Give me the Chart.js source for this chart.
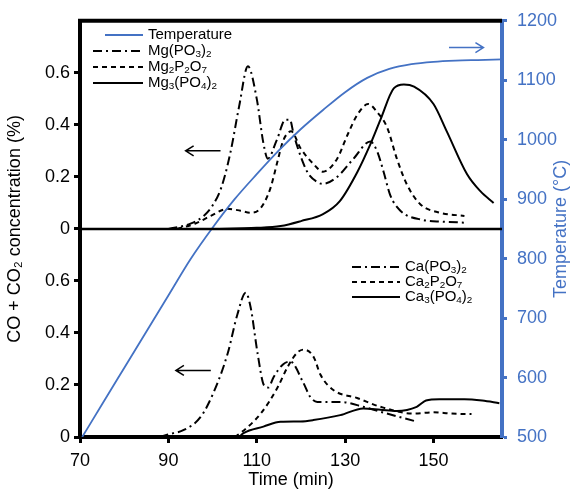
<!DOCTYPE html>
<html>
<head>
<meta charset="utf-8">
<script src="https://cdn.jsdelivr.net/npm/chart.js@4.4.0/dist/chart.umd.min.js"></script>
<style>
  body { margin: 0; background: #fff; }
  #wrap { width: 572px; height: 495px; }
</style>
</head>
<body>
<div id="wrap"><canvas id="chart"></canvas></div>
<script>
// axis ticks
const timeTicks = [70, 90, 110, 130, 150];

// furnace temperature (right axis, °C)
const tempTime  = [70.5, 75, 80, 85, 90, 95, 100, 105, 110, 115, 120, 125, 130, 135, 140, 145, 150, 155, 160, 165.5];
const tempValue = [500, 555, 616, 677, 738, 799, 852, 900, 942, 982, 1018, 1050, 1080, 1104, 1119, 1127, 1131, 1133, 1134, 1135];

// top panel: magnesium phosphates, CO + CO2 (%)
const mgPO3Time  = [90, 95, 98, 100, 102, 104, 106, 108, 110, 111.5, 112.5, 114.5, 116.5, 117.5, 118.4, 121.4, 123.7, 125, 128.2, 131.9, 135.7, 137.2, 138.7, 140.2, 142.5, 147.7, 152, 157];
const mgPO3Value = [0, 0.02, 0.05, 0.09, 0.16, 0.29, 0.47, 0.625, 0.5, 0.33, 0.27, 0.34, 0.42, 0.42, 0.36, 0.22, 0.18, 0.173, 0.2, 0.27, 0.336, 0.3, 0.22, 0.13, 0.07, 0.034, 0.028, 0.024];

const mgP2O7Time  = [92, 96, 99.6, 103.4, 106.3, 108.6, 110.9, 113.1, 114.7, 116, 117.8, 119.9, 122.8, 125, 128.2, 130.5, 132.8, 135.2, 137.2, 139.5, 141.7, 144, 147, 151.5, 157];
const mgP2O7Value = [0, 0.02, 0.05, 0.077, 0.07, 0.062, 0.08, 0.157, 0.26, 0.34, 0.375, 0.31, 0.25, 0.22, 0.27, 0.36, 0.44, 0.48, 0.45, 0.39, 0.27, 0.17, 0.095, 0.062, 0.05];

const mgPO4Time  = [100, 110, 115.4, 120, 125, 128.8, 132.8, 135.7, 138, 141, 143.3, 145.6, 150, 153, 157.6, 160.6, 163.6];
const mgPO4Value = [0, 0.004, 0.011, 0.03, 0.057, 0.107, 0.22, 0.325, 0.42, 0.54, 0.555, 0.547, 0.48, 0.375, 0.21, 0.145, 0.1];

// bottom panel: calcium phosphates, CO + CO2 (%)
const caPO3Time  = [88, 89.9, 93.5, 97.3, 100.2, 103.4, 105.6, 107.5, 108.6, 110.2, 111.6, 112.6, 113.8, 116, 117.6, 120.5, 122.1, 123.7, 128.9, 134.1, 138, 146.2];
const caPO3Value = [0, 0.01, 0.027, 0.077, 0.17, 0.32, 0.47, 0.555, 0.5, 0.32, 0.2, 0.19, 0.23, 0.28, 0.29, 0.21, 0.154, 0.135, 0.135, 0.116, 0.097, 0.059];

const caP2O7Time  = [105, 106.3, 110.9, 114.7, 117, 119.2, 120.6, 122.9, 124.4, 127.4, 132.7, 138, 145.5, 150, 154, 158.6];
const caP2O7Value = [0, 0.015, 0.09, 0.19, 0.27, 0.325, 0.336, 0.307, 0.24, 0.18, 0.15, 0.116, 0.09, 0.095, 0.09, 0.088];

const caPO4Time  = [106, 107, 111.5, 115.4, 119.9, 122.8, 128.9, 134.1, 138, 141.7, 146.2, 148.3, 151.3, 157, 161, 164.9];
const caPO4Value = [0, 0.015, 0.04, 0.059, 0.06, 0.065, 0.084, 0.11, 0.105, 0.1, 0.116, 0.14, 0.145, 0.145, 0.14, 0.13];

// the top panel sits this far above the bottom one on the shared left axis
const PANEL_SHIFT = 0.8;
const BLUE = "#4472C4";
const FONT = "'Liberation Sans', Arial, sans-serif";

const pts = (xs, ys, shift = 0) => xs.map((x, i) => ({x: x, y: ys[i] + shift}));

const DASHDOT = [9, 4, 2, 4];
const DASHED = [5, 4];

const datasets = [
    {label: "Temperature", data: pts(tempTime, tempValue), yAxisID: "y2", borderColor: BLUE, borderWidth: 1.8, borderDash: []},
    {label: "Mg(PO{3}){2}", data: pts(mgPO3Time, mgPO3Value, PANEL_SHIFT), borderDash: DASHDOT},
    {label: "Mg{2}P{2}O{7}", data: pts(mgP2O7Time, mgP2O7Value, PANEL_SHIFT), borderDash: DASHED},
    {label: "Mg{3}(PO{4}){2}", data: pts(mgPO4Time, mgPO4Value, PANEL_SHIFT), borderDash: []},
    {label: "Ca(PO{3}){2}", data: pts(caPO3Time, caPO3Value), borderDash: DASHDOT},
    {label: "Ca{2}P{2}O{7}", data: pts(caP2O7Time, caP2O7Value), borderDash: DASHED},
    {label: "Ca{3}(PO{4}){2}", data: pts(caPO4Time, caPO4Value), borderDash: []}
].map(d => Object.assign({
    yAxisID: "y", borderColor: "#000", borderWidth: 2, pointRadius: 0,
    tension: 0.4, cubicInterpolationMode: "monotone", fill: false
}, d));

// text with {n} turned into subscripts
function richText(ctx, str, x, y, size) {
    const parts = str.split(/(\{\d+\})/);
    parts.forEach(p => {
        if (!p) return;
        const sub = p[0] === "{";
        const t = sub ? p.slice(1, -1) : p;
        ctx.font = (sub ? size * 0.66 : size) + "px " + FONT;
        ctx.fillText(t, x, sub ? y + size * 0.25 : y);
        x += ctx.measureText(t).width;
    });
}

function arrow(ctx, x1, x2, y, color) {
    // tip at x2
    const d = x2 > x1 ? -1 : 1;
    ctx.strokeStyle = color;
    ctx.lineWidth = 1.5;
    ctx.setLineDash([]);
    ctx.beginPath();
    ctx.moveTo(x1, y); ctx.lineTo(x2, y);
    ctx.moveTo(x2 + d * 8, y - 5); ctx.lineTo(x2, y); ctx.lineTo(x2 + d * 8, y + 5);
    ctx.stroke();
}

const decor = {
    id: "decor",
    afterDatasetsDraw(chart) {
        const {ctx, chartArea: a, scales} = chart;
        const x = scales.x, y = scales.y;
        ctx.save();
        // frame top and panel divider
        ctx.strokeStyle = "#000";
        ctx.lineWidth = 4;
        ctx.beginPath(); ctx.moveTo(a.left - 2, a.top); ctx.lineTo(a.right, a.top); ctx.stroke();
        const yd = y.getPixelForValue(PANEL_SHIFT);
        ctx.lineWidth = 2.5;
        ctx.beginPath(); ctx.moveTo(a.left, yd); ctx.lineTo(a.right, yd); ctx.stroke();

        // arrows pointing to their axes
        arrow(ctx, x.getPixelForValue(101.8), x.getPixelForValue(93.9), y.getPixelForValue(1.1), "#000");
        arrow(ctx, x.getPixelForValue(99.6), x.getPixelForValue(91.7), y.getPixelForValue(0.256), "#000");
        arrow(ctx, x.getPixelForValue(153.5), x.getPixelForValue(161.3), y.getPixelForValue(1.497), BLUE);

        // right axis title, reading upwards
        ctx.save();
        ctx.translate(561, (a.top + a.bottom) / 2);
        ctx.rotate(-Math.PI / 2);
        ctx.textAlign = "center";
        ctx.textBaseline = "middle";
        ctx.fillStyle = BLUE;
        ctx.font = "18px " + FONT;
        ctx.fillText("Temperature (°C)", 0, 0);
        ctx.restore();

        // legends
        ctx.textBaseline = "middle";
        ctx.fillStyle = "#000";
        const ds = chart.data.datasets;
        const entry = (d, x0, x1, yy) => {
            ctx.strokeStyle = d.borderColor;
            ctx.lineWidth = d.borderWidth;
            ctx.setLineDash(d.borderDash);
            ctx.beginPath(); ctx.moveTo(x0, yy); ctx.lineTo(x1, yy); ctx.stroke();
            ctx.setLineDash([]);
            richText(ctx, d.label, x1 + 5, yy, 15);
        };
        entry(ds[0], 105, 143, 35);
        entry(ds[1], 93, 143, 51);
        entry(ds[2], 93, 143, 67);
        entry(ds[3], 93, 143, 83);
        entry(ds[4], 352, 400, 267);
        entry(ds[5], 352, 400, 282);
        entry(ds[6], 352, 400, 297);
        ctx.restore();
    }
};

new Chart(document.getElementById("chart"), {
    type: "line",
    data: {datasets: datasets},
    plugins: [decor],
    options: {
        responsive: true,
        maintainAspectRatio: false,
        animation: false,
        layout: {padding: {top: 18, left: 0, right: 0, bottom: 0}},
        plugins: {legend: {display: false}, tooltip: {enabled: false}},
        scales: {
            x: {
                type: "linear", min: 70, max: 165.5,
                afterFit: s => { s.height = 58; },
                afterBuildTicks: s => { s.ticks = timeTicks.map(v => ({value: v})); },
                border: {color: "#000", width: 4},
                grid: {drawOnChartArea: false, tickLength: 6, tickWidth: 3, tickColor: "#000"},
                ticks: {color: "#000", font: {family: FONT, size: 18}, padding: 7, callback: v => String(v)},
                title: {display: true, text: "Time (min)", color: "#000", font: {family: FONT, size: 18}, padding: {top: 4}}
            },
            y: {
                type: "linear", position: "left", min: 0, max: 1.6,
                afterFit: s => { s.width = 80; },
                afterBuildTicks: s => { s.ticks = s.ticks.filter(t => t.value < 1.59); },
                border: {color: "#000", width: 4},
                grid: {drawOnChartArea: false, tickLength: 6, tickWidth: 3, tickColor: "#000"},
                ticks: {
                    stepSize: 0.2, color: "#000", font: {family: FONT, size: 18}, padding: 4,
                    callback: v => {
                        const r = Math.round((v >= PANEL_SHIFT - 1e-6 ? v - PANEL_SHIFT : v) * 10) / 10;
                        return r === 0 ? "0" : r.toFixed(1);
                    }
                },
                title: {display: true, text: "CO + CO₂ concentration (%)", color: "#000", font: {family: FONT, size: 18}, padding: {bottom: 4}}
            },
            y2: {
                type: "linear", position: "right", min: 500, max: 1200,
                afterFit: s => { s.width = 70; },
                border: {color: BLUE, width: 4},
                grid: {drawOnChartArea: false, tickLength: 5, tickWidth: 3, tickColor: BLUE},
                ticks: {stepSize: 100, color: BLUE, font: {family: FONT, size: 18}, padding: 10, callback: v => String(v)},
                title: {display: false}
            }
        }
    }
});
</script>
</body>
</html>
